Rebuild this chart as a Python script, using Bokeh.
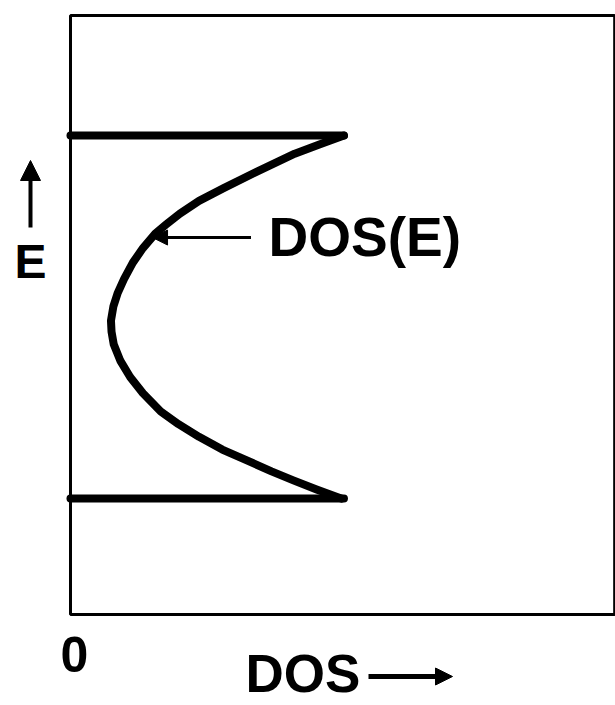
from bokeh.plotting import figure
from bokeh.models import Range1d, Label, Arrow, NormalHead, BoxAnnotation
from bokeh.embed import file_html
from bokeh.resources import INLINE

# Schematic band density of states: DOS on x, energy E on y (band edges at E = +/-1)
e_curve = [1.00, 0.95, 0.90, 0.80, 0.71, 0.64, 0.57, 0.51, 0.46, 0.38, 0.30, 0.21, 0.13, 0.06,
           -0.02, -0.08, -0.15, -0.24, -0.33, -0.42, -0.52, -0.59, -0.66, -0.73, -0.79, -0.85,
           -0.90, -0.95, -1.00]
dos_curve = [1.00, 0.91, 0.82, 0.68, 0.56, 0.47, 0.40, 0.35, 0.31, 0.265, 0.228, 0.196, 0.172, 0.157,
             0.148, 0.150, 0.158, 0.182, 0.218, 0.265, 0.33, 0.395, 0.47, 0.555, 0.645, 0.735,
             0.815, 0.90, 0.99]

band_edges = [1.0, -1.0]
edge_dos = [0.0, 1.0]

# plot box limits (DOS from 0, energy window around the band)
BOX_DOS = (0.0, 1.99)
BOX_E = (-1.639, 1.661)

W, H = 615, 705
p = figure(width=W, height=H, output_backend="svg", toolbar_location=None, title=None,
           x_axis_location=None, y_axis_location=None,
           x_range=Range1d(-0.256, 1.993), y_range=Range1d(-2.140, 1.744),
           min_border=0)
p.grid.visible = False
p.outline_line_color = None
p.background_fill_color = "white"
p.border_fill_color = "white"

p.add_layout(BoxAnnotation(left=BOX_DOS[0], right=BOX_DOS[1], bottom=BOX_E[0], top=BOX_E[1],
                           fill_alpha=0, line_color="black", line_alpha=1, line_width=3))

for e in band_edges:
    p.line(edge_dos, [e, e], line_width=8, line_color="black", line_cap="round")

p.line(dos_curve, e_curve, line_width=8, line_color="black", line_cap="round", line_join="round")

FONT = "Liberation Sans"
INK = "black"
WEIGHT = "bold"

# callout for the curve
p.add_layout(Arrow(end=NormalHead(size=15, fill_color=INK, line_color=INK),
                   x_start=0.66, y_start=0.438, x_end=0.30, y_end=0.438,
                   line_width=3, line_color=INK))
p.add_layout(Label(x=0.724, y=0.4435, text="DOS(E)", text_font=FONT, text_font_size="55px",
                   text_font_style=WEIGHT, text_color=INK, text_baseline="alphabetic"))

# axis annotations around the box (screen units)
p.add_layout(Label(x=74, y=51.5, x_units="screen", y_units="screen", text="0", text_font=FONT,
                   text_font_size="50px", text_font_style=WEIGHT, text_align="center",
                   text_color=INK, text_baseline="alphabetic"))
p.add_layout(Label(x=245, y=32, x_units="screen", y_units="screen", text="DOS", text_font=FONT,
                   text_font_size="53px", text_font_style=WEIGHT, text_color=INK,
                   text_baseline="alphabetic"))
p.add_layout(Arrow(end=NormalHead(size=17, fill_color=INK, line_color=INK),
                   x_start=368, y_start=29, x_end=452, y_end=29,
                   start_units="screen", end_units="screen", line_width=5, line_color=INK))
p.add_layout(Label(x=30, y=444, x_units="screen", y_units="screen", text="E", text_font=FONT,
                   text_font_size="48px", text_font_style=WEIGHT, text_align="center",
                   text_color=INK, text_baseline="alphabetic"))
p.add_layout(Arrow(end=NormalHead(size=20, fill_color=INK, line_color=INK),
                   x_start=30, y_start=478, x_end=30, y_end=545,
                   start_units="screen", end_units="screen", line_width=4, line_color=INK))

open("out.html", "w").write(file_html(p, INLINE))
